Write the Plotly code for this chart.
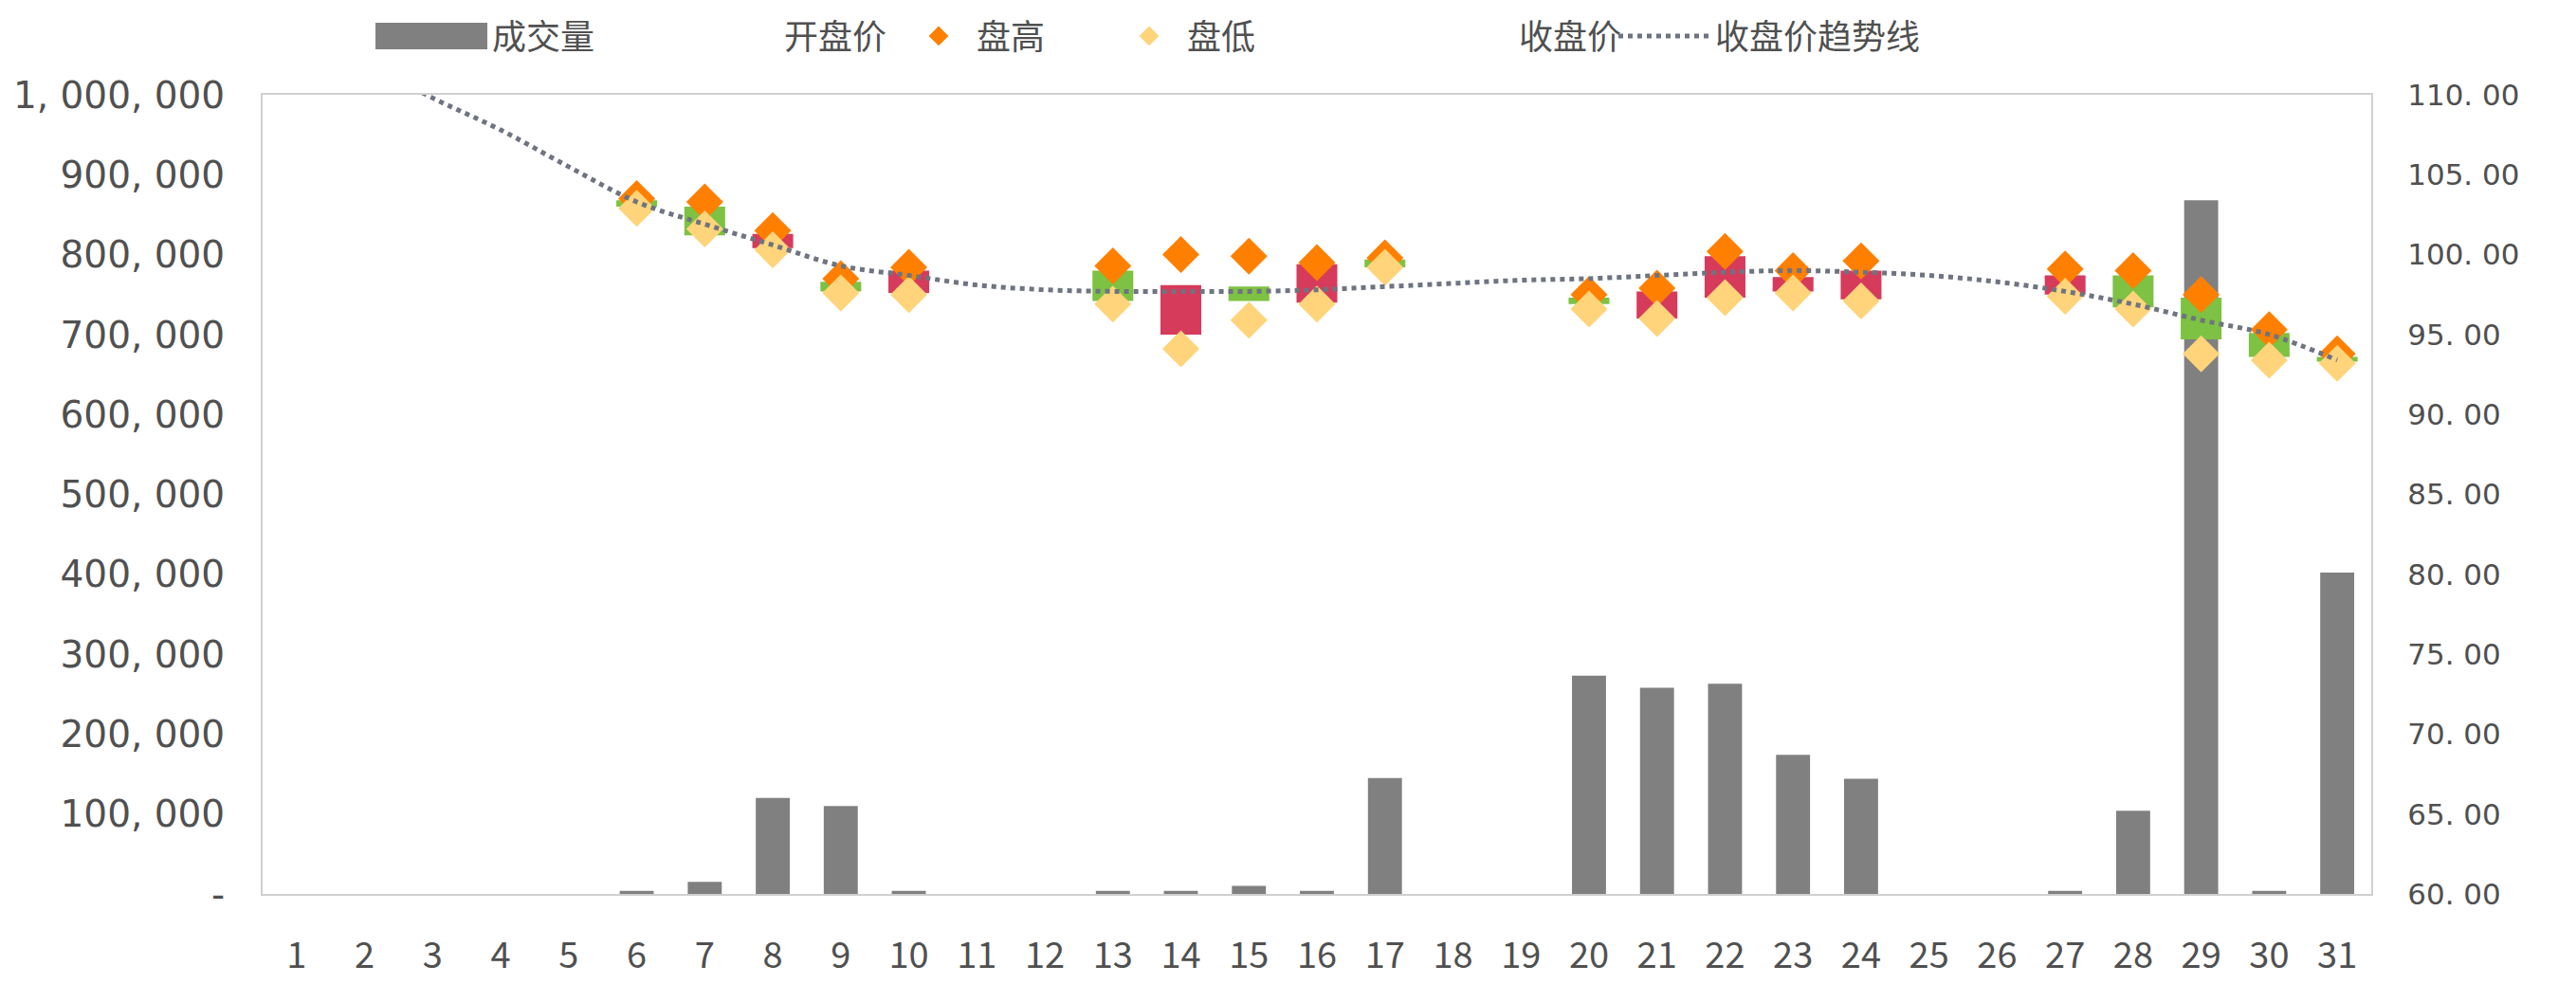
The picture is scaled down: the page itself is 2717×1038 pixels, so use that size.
import plotly.graph_objects as go

days = list(range(1, 32))
volume = [0, 0, 0, 0, 0, 4000, 15000, 120000, 110000, 4000, 0, 0, 4000, 4000, 10000, 4000,
          145000, 0, 0, 273000, 258000, 263000, 174000, 144000, 0, 0, 4000, 104000, 868000, 4000, 402000]
N = None
open_p = [N, N, N, N, N, 103.4, 103.0, 100.4, 98.3, 97.6, N, N, 99.0, 95.0, 98.0, 97.0,
          99.7, N, N, 97.3, 96.0, 97.3, 97.7, 97.2, N, N, 97.5, 98.7, 97.3, 95.1, 93.6]
high_p = [N, N, N, N, N, 103.5, 103.3, 101.5, 98.5, 99.2, N, N, 99.3, 100.0, 99.9, 99.5,
          99.8, N, N, 97.5, 97.9, 100.2, 99.0, 99.6, N, N, 99.1, 99.0, 97.5, 95.3, 93.8]
low_p = [N, N, N, N, N, 102.9, 101.6, 100.3, 97.6, 97.5, N, N, 96.9, 94.1, 95.9, 96.9,
         99.2, N, N, 96.6, 96.0, 97.3, 97.6, 97.1, N, N, 97.4, 96.6, 93.8, 93.4, 93.2]
close_p = [N, N, N, N, N, 103.0, 101.2, 101.3, 97.7, 99.0, N, N, 97.1, 98.1, 97.1, 99.4,
           99.2, N, N, 96.9, 97.7, 99.9, 98.6, 99.0, N, N, 98.7, 96.7, 94.7, 93.6, 93.3]
trend = [114.3, 112.0, 109.8, 107.8, 105.5, 103.3, 101.9, 100.6, 99.3, 98.7, 98.1, 97.8, 97.7,
         97.7, 97.7, 97.8, 98.0, 98.2, 98.4, 98.5, 98.7, 98.9, 99.0, 98.9, 98.7, 98.3, 97.7,
         96.9, 95.9, 95.0, 93.4]

vol_ticks = [0, 100000, 200000, 300000, 400000, 500000, 600000, 700000, 800000, 900000, 1000000]
vol_ticktext = ["-", "100, 000", "200, 000", "300, 000", "400, 000", "500, 000", "600, 000",
                "700, 000", "800, 000", "900, 000", "1, 000, 000"]
price_ticks = [60, 65, 70, 75, 80, 85, 90, 95, 100, 105, 110]
price_ticktext = ["60. 00", "65. 00", "70. 00", "75. 00", "80. 00", "85. 00", "90. 00",
                  "95. 00", "100. 00", "105. 00", "110. 00"]

FONT = "Noto Sans CJK SC"
NUMFONT = "DejaVu Sans"
TXT = "#505050"
RED = "#D63B5C"
GREEN = "#7DC243"
ORANGE = "#FF8000"
YELLOW = "#FFD47A"
GRAY = "#808080"
AXIS = "#D0D0D0"

# candle body split
up_x, up_base, up_h, dn_x, dn_base, dn_h = [], [], [], [], [], []
for d, o, c in zip(days, open_p, close_p):
    if o is None:
        continue
    if c >= o:
        up_x.append(d); up_base.append(o); up_h.append(c - o)
    else:
        dn_x.append(d); dn_base.append(c); dn_h.append(o - c)

fig = go.Figure()
fig.add_trace(go.Bar(x=days, y=volume, name="成交量", marker=dict(color=GRAY, line=dict(width=0)),
                     width=0.5, yaxis="y", legend="legend"))
fig.add_trace(go.Bar(x=up_x, y=up_h, base=up_base, marker=dict(color=RED, line=dict(width=0)),
                     width=0.6, yaxis="y2", showlegend=False, name="上涨"))
fig.add_trace(go.Bar(x=dn_x, y=dn_h, base=dn_base, marker=dict(color=GREEN, line=dict(width=0)),
                     width=0.6, yaxis="y2", showlegend=False, name="下跌"))
fig.add_trace(go.Scatter(x=days, y=open_p, name="开盘价", mode="markers", yaxis="y2",
                         marker=dict(color="rgba(0,0,0,0)", size=10), legend="legend2"))
fig.add_trace(go.Scatter(x=days, y=high_p, name="盘高", mode="markers", yaxis="y2",
                         marker=dict(color=ORANGE, symbol="diamond", size=30), legend="legend3"))
fig.add_trace(go.Scatter(x=days, y=low_p, name="盘低", mode="markers", yaxis="y2",
                         marker=dict(color=YELLOW, symbol="diamond", size=30), legend="legend4"))
fig.add_trace(go.Scatter(x=days, y=close_p, name="收盘价", mode="markers", yaxis="y2",
                         marker=dict(color="rgba(0,0,0,0)", size=10), legend="legend5"))
fig.add_trace(go.Scatter(x=days, y=trend, name="收盘价趋势线", mode="lines", yaxis="y2",
                         line=dict(color="#6E7480", width=5, dash="dot", shape="spline"),
                         legend="legend6"))

L, R, T, B = 269, 224, 92, 103
W = 2717 - L - R
H = 1038 - T - B

def px(xpix):
    return (xpix - L) / W

def py(ypix):
    return (1038 - B - ypix) / H

leg_common = dict(orientation="h", yanchor="middle", y=py(30), xanchor="left",
                  bgcolor="rgba(0,0,0,0)", font=dict(family=FONT, size=36, color=TXT))

fig.update_layout(
    width=2717, height=1038,
    margin=dict(l=L, r=R, t=T, b=B, autoexpand=False),
    paper_bgcolor="white", plot_bgcolor="white",
    barmode="overlay",
    font=dict(family=FONT, size=30, color=TXT),
    xaxis=dict(range=[0.5, 31.5], tickvals=days, ticktext=[str(d) for d in days],
               showgrid=False, zeroline=False, showline=True, linecolor=AXIS, linewidth=2,
               mirror=True, ticks="", ticklabelstandoff=30,
               tickfont=dict(family=FONT, size=38, color=TXT)),
    yaxis=dict(range=[0, 1000000], tickvals=vol_ticks, ticktext=vol_ticktext,
               showgrid=False, zeroline=False, showline=True, linecolor=AXIS, linewidth=2,
               ticks="", ticklabelstandoff=30, tickfont=dict(family=NUMFONT, size=39, color=TXT)),
    yaxis2=dict(range=[60, 110], tickvals=price_ticks, ticktext=price_ticktext, overlaying="y",
                side="right", showgrid=False, zeroline=False, showline=True, linecolor=AXIS,
                linewidth=2, ticks="", ticklabelstandoff=30,
                tickfont=dict(family=NUMFONT, size=31, color=TXT)),
    legend=dict(x=px(471), **leg_common),
    legend2=dict(x=px(779), **leg_common),
    legend3=dict(x=px(942), itemwidth=70, **leg_common),
    legend4=dict(x=px(1164), itemwidth=70, **leg_common),
    legend5=dict(x=px(1554), **leg_common),
    legend6=dict(x=px(1694), itemwidth=97, **leg_common),
    showlegend=True,
    shapes=[dict(type="rect", xref="paper", yref="paper", x0=px(388), x1=px(506),
                 y0=py(44), y1=py(16), fillcolor=GRAY, line=dict(width=0), layer="above")],
)

fig.write_html("out.html")
